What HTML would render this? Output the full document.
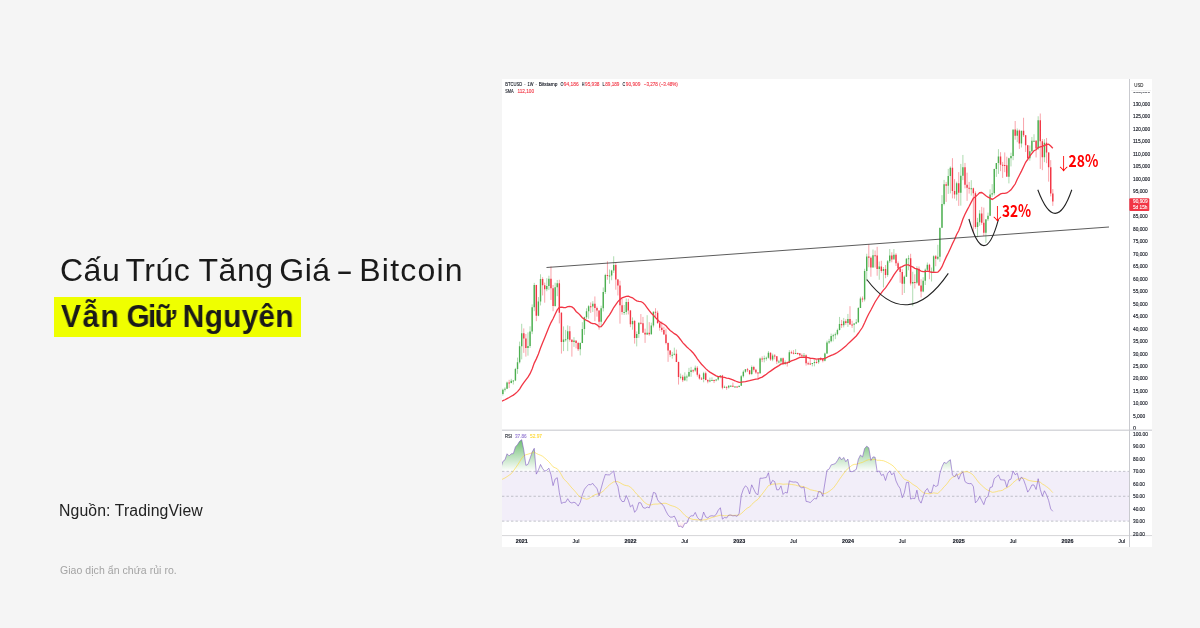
<!DOCTYPE html>
<html lang="vi"><head><meta charset="utf-8"><title>Cấu Trúc Tăng Giá - Bitcoin</title>
<style>
html,body{margin:0;padding:0}
.h1,.h2,.src,.disc{will-change:transform}
body{width:1200px;height:628px;background:#f5f5f5;position:relative;overflow:hidden;font-family:"Liberation Sans",sans-serif;color:#1c1c1c}
.h1{position:absolute;left:60px;top:251.8px;font-size:32px;line-height:36px;letter-spacing:0.5px;word-spacing:-3.6px;white-space:nowrap;color:#1a1a1a}
.dash{display:inline-block;transform:scaleX(1.6);transform-origin:0 0;margin-right:6px}
.hl{position:absolute;left:54px;top:297px;width:247px;height:40px;background:#efff00}
.h2{position:absolute;left:61px;top:297.9px;font-size:31.8px;line-height:36px;font-weight:bold;transform:scaleX(.94);transform-origin:0 0;white-space:nowrap;color:#1a1a1a}
.src{position:absolute;left:59.4px;top:501.4px;font-size:15.8px;line-height:20px;letter-spacing:0.1px;color:#222;white-space:nowrap}
.disc{position:absolute;left:60.3px;top:562.9px;font-size:10.5px;line-height:14px;letter-spacing:0.05px;color:#a3a3a3;white-space:nowrap}
.chart{position:absolute;left:502px;top:79px;display:block;will-change:transform}
</style></head><body>
<div class="h1">Cấu Trúc <span style="margin-left:2.5px">Tăng</span> Giá <span class="dash">-</span> <span style="letter-spacing:1.2px">Bitcoin</span></div>
<div class="hl"></div>
<div class="h2"><span style="letter-spacing:1.5px">Vẫn</span> <span style="letter-spacing:-1.9px;margin-left:-2px">Giữ</span> <span style="letter-spacing:0.3px">Nguyên</span></div>
<div class="src">Nguồn: TradingView</div>
<div class="disc">Giao dịch ẩn chứa rủi ro.</div>
<svg class="chart" width="650" height="468" viewBox="502 79 650 468">
<defs>
<clipPath id="c0"><rect x="1130" y="79" width="22" height="350.6"/></clipPath>
<clipPath id="cm"><rect x="502" y="79" width="627.5" height="351"/></clipPath>
<clipPath id="cr"><rect x="502" y="431" width="627.5" height="104"/></clipPath>
<clipPath id="cos"><rect x="502" y="521.15" width="627.5" height="13.85"/></clipPath>
<linearGradient id="gos" x1="0" y1="521.15" x2="0" y2="558.5" gradientUnits="userSpaceOnUse"><stop offset="0" stop-color="#f23645" stop-opacity="0"/><stop offset="1" stop-color="#f23645" stop-opacity=".9"/></linearGradient>
<clipPath id="cob"><rect x="502" y="431" width="627.5" height="40.35"/></clipPath>
<linearGradient id="gob" x1="0" y1="434" x2="0" y2="471.35" gradientUnits="userSpaceOnUse"><stop offset="0" stop-color="#4caf50" stop-opacity=".95"/><stop offset="1" stop-color="#4caf50" stop-opacity="0"/></linearGradient>
</defs>
<rect x="502" y="79" width="650" height="468" fill="#fff"/>
<g clip-path="url(#cm)">
<path d="M500.79 393.31V396.18M502.88 388.64V395.55M504.97 387.32V391.56M507.06 381.58V389.06M511.25 378.83V383.32M513.34 380.08V384.57M515.43 367.85V381.08M517.52 357.61V373.84M519.61 341.64V363.48M521.7 323.79V359.36M527.97 332.4V355.62M530.06 326.29V347.88M532.16 304.45V334.15M534.25 282.86V311.19M538.43 297.09V316.18M540.52 274.25V305.45M546.79 278.24V291.22M548.88 275.74V289.97M555.16 282.73V306.7M557.25 279.99V296.21M563.52 326.41V351.12M565.61 329.91V341.64M567.7 325.42V351.12M573.98 337.15V346.88M580.25 342.39V355.37M582.34 322.17V343.14M584.43 316.68V334.9M586.52 308.32V319.18M588.61 305.2V318.8M592.79 301.2V311.94M601.16 305.7V326.41M603.25 287.48V311.44M605.34 273.75V293.97M609.52 269.5V283.73M611.61 269.75V280.24M613.7 256.28V273M624.16 304.95V314.93M626.25 298.46V314.68M632.52 317.43V329.66M636.71 331.41V346.38M638.8 322.42V337.9M647.16 315.18V334.9M651.34 322.67V334.65M653.43 311.44V327.41M672.25 351.87V358.61M674.34 347.63V355.37M680.62 373.59V379.33M684.8 372.34V381.08M686.89 374.59V381.33M688.98 367.85V376.58M691.07 366.85V376.83M695.25 365.6V371.84M703.62 371.84V382.32M709.89 377.58V382.32M711.98 377.33V380.58M716.16 379.33V381.33M718.25 376.08V380.58M720.35 375.09V378.33M724.53 385.57V388.06M728.71 385.07V388.56M730.8 385.07V386.82M734.98 386.07V387.57M739.16 385.82V387.32M741.26 375.09V385.82M743.35 370.34V377.58M745.44 369.1V372.84M751.71 365.48V375.09M760.07 357.61V373.84M764.26 355.62V362.36M766.35 356.62V360.61M768.44 351.12V358.61M772.62 353.62V361.23M778.89 359.86V363.35M780.98 357.61V363.85M785.17 360.36V365.1M789.35 350.13V362.86M795.62 349.13V353.62M803.99 353V356.86M812.35 363.1V366.35M814.44 359.86V366.35M818.62 358.61V363.85M824.9 352.62V361.36M826.99 340.64V353.87M829.08 338.89V343.89M831.17 333.65V342.39M833.26 333.78V341.39M835.35 332.53V339.14M837.44 328.66V335.4M839.53 316.93V330.41M843.71 317.93V327.41M847.9 313.93V326.91M854.17 323.17V332.4M856.26 319.05V324.17M858.35 307.19V322.92M860.44 296.71V307.94M864.62 268.76V301.45M866.72 253.78V281.24M872.99 249.54V267.51M879.26 261.52V279.74M883.44 267.01V287.48M887.62 260.02V276.74M889.72 249.04V263.02M893.9 249.04V257.77M904.35 275.5V292.97M906.44 258.02V276.74M908.54 255.28V270.25M912.72 271.75V306.2M916.9 266.26V284.23M923.17 277.24V292.22M925.26 268.51V284.98M927.35 262.52V272M931.54 267.51V281.49M933.63 255.28V272.75M937.81 244.79V260.02M939.9 228.07V261.77M941.99 195.12V228.07M944.08 179.9V205.36M948.26 168.92V193.88M950.36 166.42V193.38M956.63 181.65V200.62M960.81 163.92V205.61M962.9 154.94V180.15M971.27 180.15V195.62M977.54 217.84V237.31M979.63 210.1V225.82M985.9 219.83V242.8M987.99 212.6V221.08M990.08 189.38V216.09M992.18 184.14V196.87M994.27 168.67V195.37M996.36 164.42V176.9M998.45 149.2V173.91M1008.9 157.68V183.39M1010.99 152.69V166.42M1013.09 130.23V160.18M1017.27 128.48V142.21M1021.45 130.73V147.45M1029.81 145.45V160.68M1031.9 136.97V152.44M1034 134.22V141.96M1038.18 116.25V149.95M1044.45 139.21V162.18" stroke="#4caf50" stroke-opacity=".45" stroke-width="1" fill="none"/>
<path d="M509.15 379.83V388.06M523.79 328.41V352.87M525.88 334.03V356.62M536.34 284.73V321.17M542.61 277.24V295.46M544.7 282.61V302.7M550.97 266.51V299.96M553.07 284.98V311.19M559.34 279.74V323.42M561.43 312.19V353.62M569.79 326.16V341.64M571.88 339.27V356.62M576.07 340.89V348.38M578.16 341.89V351M590.7 302.45V312.94M594.88 296.46V321.17M596.98 306.57V316.68M599.07 310.44V329.66M607.43 261.27V279.74M615.8 263.02V289.72M617.89 278.99V295.46M619.98 280.74V323.67M622.07 298.96V314.68M628.34 298.71V314.43M630.43 309.94V327.16M634.61 319.92V343.64M640.89 314.06V324.42M642.98 316.93V330.16M645.07 328.66V342.89M649.25 322.17V335.65M655.52 308.19V318.18M657.62 310.69V323.42M659.71 322.67V330.66M661.8 321.42V332.15M663.89 326.66V334.65M665.98 328.66V344.38M668.07 342.39V361.86M670.16 350.13V357.11M676.43 349.63V362.11M678.53 361.61V384.57M682.71 374.84V382.07M693.16 369.34V372.59M697.34 366.1V376.58M699.44 373.59V379.58M701.53 377.08V379.83M705.71 371.59V380.33M707.8 379.33V383.32M714.07 379.58V383.07M722.44 374.84V389.31M726.62 386.57V389.81M732.89 382.57V387.07M737.07 386.32V387.57M747.53 367.97V372.09M749.62 370.09V375.09M753.8 365.85V371.59M755.89 368.85V373.84M757.98 372.09V379.58M762.17 356.37V362.11M770.53 352.37V360.86M774.71 354.12V359.36M776.8 356.12V364.1M783.08 357.49V365.1M787.26 361.61V366.6M791.44 350.62V353.87M793.53 350.13V354.37M797.71 352.62V354.87M799.8 353.5V356.37M801.89 353.62V357.11M806.08 354.37V365.6M808.17 361.61V365.1M810.26 358.24V365.1M816.53 359.86V363.6M820.71 357.11V360.61M822.8 358.61V362.36M841.62 319.92V327.91M845.81 319.18V324.92M849.99 306.2V324.92M852.08 320.67V327.91M862.53 296.46V302.2M868.81 244.3V267.26M870.9 256.53V276.74M875.08 250.54V267.51M877.17 246.79V275.74M881.35 260.77V272.75M885.53 265.01V278.24M891.81 252.28V262.27M895.99 253.28V266.01M898.08 261.52V270.25M900.17 268.51V282.73M902.26 269.26V294.96M910.63 253.78V285.48M914.81 274.25V288.47M918.99 266.51V285.73M921.08 279.24V297.46M929.45 263.76V279.24M935.72 255.03V266.26M946.17 181.9V201.86M952.45 158.18V198.37M954.54 179.15V198.62M958.72 172.16V205.86M964.99 162.93V188.38M967.08 172.66V200.86M969.17 181.9V193.63M973.36 187.64V233.31M975.45 191.38V228.82M981.72 206.86V224.83M983.81 207.6V236.06M1000.54 152.19V171.16M1002.63 161.93V177.9M1004.72 152.44V172.16M1006.81 156.69V173.16M1015.18 120.99V139.71M1019.36 129.48V148.95M1023.54 117.75V136.97M1025.63 134.97V151.94M1027.72 144.95V160.68M1036.09 140.21V157.43M1040.27 113.5V168.92M1042.36 138.96V170.16M1046.54 137.97V163.18M1048.63 152.19V181.65M1050.72 160.18V196.37M1052.81 189.04V205.88" stroke="#f23645" stroke-opacity=".45" stroke-width="1" fill="none"/>
<path d="M500.09 394.08h1.4V395.98h-1.4zM502.18 389.86h1.4V394.08h-1.4zM504.27 388.64h1.4V389.86h-1.4zM506.36 382.57h1.4V388.64h-1.4zM510.55 380.63h1.4V383.07h-1.4zM512.64 380.45h1.4V381.45h-1.4zM514.73 368.97h1.4V380.45h-1.4zM516.82 362.36h1.4V368.97h-1.4zM518.91 346.13h1.4V362.36h-1.4zM521 333.15h1.4V346.13h-1.4zM527.27 345.88h1.4V347.88h-1.4zM529.36 331.53h1.4V345.88h-1.4zM531.46 307.19h1.4V331.53h-1.4zM533.55 284.98h1.4V307.19h-1.4zM537.73 301.45h1.4V315.68h-1.4zM539.82 278.99h1.4V301.45h-1.4zM546.09 285.98h1.4V289.22h-1.4zM548.18 278.74h1.4V285.98h-1.4zM554.46 287.23h1.4V306.07h-1.4zM556.55 283.23h1.4V287.23h-1.4zM562.82 339.52h1.4V341.89h-1.4zM564.91 339.14h1.4V340.14h-1.4zM567 331.16h1.4V339.14h-1.4zM573.27 340.39h1.4V342.01h-1.4zM579.55 342.89h1.4V349.13h-1.4zM581.64 328.91h1.4V342.89h-1.4zM583.73 317.18h1.4V328.91h-1.4zM585.82 311.19h1.4V317.18h-1.4zM587.91 306.32h1.4V311.19h-1.4zM592.09 303.82h1.4V306.57h-1.4zM600.46 308.19h1.4V321.67h-1.4zM602.55 291.97h1.4V308.19h-1.4zM604.64 275h1.4V291.97h-1.4zM608.82 275.5h1.4V276.5h-1.4zM610.91 270.5h1.4V275.5h-1.4zM613 265.01h1.4V270.5h-1.4zM623.46 311.94h1.4V312.94h-1.4zM625.55 301.95h1.4V311.94h-1.4zM631.82 320.92h1.4V324.17h-1.4zM636 333.9h1.4V337.9h-1.4zM638.1 322.67h1.4V333.9h-1.4zM646.46 332.65h1.4V334.4h-1.4zM650.64 325.42h1.4V334.15h-1.4zM652.73 311.69h1.4V325.42h-1.4zM671.55 354.87h1.4V355.87h-1.4zM673.64 353.87h1.4V354.87h-1.4zM679.92 376.83h1.4V377.83h-1.4zM684.1 376.58h1.4V380.33h-1.4zM686.19 376.58h1.4V377.58h-1.4zM688.28 372.09h1.4V376.58h-1.4zM690.37 370.34h1.4V372.09h-1.4zM694.55 367.85h1.4V370.59h-1.4zM702.92 373.34h1.4V379.08h-1.4zM709.19 380.33h1.4V381.58h-1.4zM711.28 380.08h1.4V381.08h-1.4zM715.46 379.58h1.4V380.58h-1.4zM717.55 377.08h1.4V379.58h-1.4zM719.64 375.58h1.4V377.08h-1.4zM723.83 386.82h1.4V387.82h-1.4zM728.01 385.82h1.4V387.44h-1.4zM730.1 385.82h1.4V386.82h-1.4zM734.28 386.47h1.4V387.47h-1.4zM738.46 385.82h1.4V387.07h-1.4zM740.56 376.33h1.4V385.82h-1.4zM742.65 371.84h1.4V376.33h-1.4zM744.74 369.34h1.4V371.84h-1.4zM751.01 367.1h1.4V374.09h-1.4zM759.37 358.61h1.4V373.34h-1.4zM763.56 358.24h1.4V359.24h-1.4zM765.65 357.86h1.4V358.86h-1.4zM767.74 352.87h1.4V357.86h-1.4zM771.92 355.62h1.4V359.61h-1.4zM778.19 361.48h1.4V362.48h-1.4zM780.28 358.36h1.4V361.48h-1.4zM784.47 362.36h1.4V363.98h-1.4zM788.65 352.37h1.4V362.86h-1.4zM794.92 353h1.4V354h-1.4zM803.29 355.37h1.4V356.37h-1.4zM811.65 363.1h1.4V364.1h-1.4zM813.74 362.11h1.4V363.11h-1.4zM817.92 358.74h1.4V362.36h-1.4zM824.2 353.62h1.4V360.73h-1.4zM826.29 342.39h1.4V353.62h-1.4zM828.38 341.14h1.4V342.39h-1.4zM830.47 335.9h1.4V341.14h-1.4zM832.56 335.15h1.4V336.15h-1.4zM834.65 334.15h1.4V335.15h-1.4zM836.74 329.91h1.4V334.15h-1.4zM838.83 323.92h1.4V329.91h-1.4zM843.01 321.17h1.4V325.17h-1.4zM847.2 318.93h1.4V322.92h-1.4zM853.47 323.42h1.4V324.67h-1.4zM855.56 322.17h1.4V323.42h-1.4zM857.65 307.94h1.4V322.17h-1.4zM859.74 298.46h1.4V307.94h-1.4zM863.92 271h1.4V299.46h-1.4zM866.02 256.53h1.4V271h-1.4zM872.29 255.28h1.4V267.51h-1.4zM878.56 266.51h1.4V269.01h-1.4zM882.74 269.01h1.4V271h-1.4zM886.92 261.27h1.4V275h-1.4zM889.02 255.53h1.4V261.27h-1.4zM893.2 254.78h1.4V259.52h-1.4zM903.65 276.74h1.4V283.73h-1.4zM905.74 258.77h1.4V276.74h-1.4zM907.84 258.27h1.4V259.27h-1.4zM912.02 281.98h1.4V283.48h-1.4zM916.2 268.76h1.4V282.73h-1.4zM922.47 280.74h1.4V291.47h-1.4zM924.56 269.75h1.4V280.74h-1.4zM926.65 264.76h1.4V269.75h-1.4zM930.84 271.5h1.4V272.5h-1.4zM932.93 256.28h1.4V271.5h-1.4zM937.11 256.78h1.4V258.77h-1.4zM939.2 227.82h1.4V256.78h-1.4zM941.29 204.11h1.4V227.82h-1.4zM943.38 184.14h1.4V204.11h-1.4zM947.56 175.9h1.4V185.64h-1.4zM949.65 167.67h1.4V175.9h-1.4zM955.93 183.14h1.4V194.62h-1.4zM960.11 175.66h1.4V192.63h-1.4zM962.2 167.17h1.4V175.66h-1.4zM970.57 188.14h1.4V189.14h-1.4zM976.84 222.33h1.4V227.07h-1.4zM978.93 213.59h1.4V222.33h-1.4zM985.2 219.34h1.4V232.81h-1.4zM987.29 215.84h1.4V219.34h-1.4zM989.38 194.38h1.4V215.84h-1.4zM991.48 193.13h1.4V194.38h-1.4zM993.57 168.92h1.4V193.13h-1.4zM995.66 162.93h1.4V168.92h-1.4zM997.75 156.44h1.4V162.93h-1.4zM1008.2 158.18h1.4V176.65h-1.4zM1010.29 155.94h1.4V158.18h-1.4zM1012.38 129.48h1.4V155.94h-1.4zM1016.57 130.48h1.4V135.72h-1.4zM1020.75 130.73h1.4V143.46h-1.4zM1029.11 151.19h1.4V158.18h-1.4zM1031.2 140.71h1.4V151.19h-1.4zM1033.3 140.71h1.4V141.71h-1.4zM1037.48 120.24h1.4V148.45h-1.4zM1043.75 142.71h1.4V157.18h-1.4z" fill="#4caf50"/>
<path d="M508.45 382.57h1.4V383.57h-1.4zM523.09 333.15h1.4V338.52h-1.4zM525.18 338.52h1.4V347.88h-1.4zM535.64 284.98h1.4V315.68h-1.4zM541.91 278.99h1.4V285.23h-1.4zM544 285.23h1.4V289.22h-1.4zM550.27 278.74h1.4V288.22h-1.4zM552.37 288.22h1.4V306.07h-1.4zM558.64 283.23h1.4V312.69h-1.4zM560.73 312.69h1.4V341.89h-1.4zM569.09 331.16h1.4V339.64h-1.4zM571.18 339.64h1.4V342.01h-1.4zM575.37 340.39h1.4V343.01h-1.4zM577.46 343.01h1.4V349.13h-1.4zM590 306.32h1.4V307.32h-1.4zM594.18 303.82h1.4V307.94h-1.4zM596.28 307.94h1.4V310.56h-1.4zM598.37 310.56h1.4V321.67h-1.4zM606.73 275h1.4V276h-1.4zM615.1 265.01h1.4V279.49h-1.4zM617.19 279.49h1.4V285.48h-1.4zM619.28 285.48h1.4V305.2h-1.4zM621.37 305.2h1.4V311.94h-1.4zM627.64 301.95h1.4V310.44h-1.4zM629.73 310.44h1.4V324.17h-1.4zM633.91 320.92h1.4V337.9h-1.4zM640.19 322.67h1.4V323.67h-1.4zM642.28 323.17h1.4V332.65h-1.4zM644.37 332.65h1.4V334.4h-1.4zM648.55 332.65h1.4V334.15h-1.4zM654.82 311.69h1.4V312.69h-1.4zM656.91 312.69h1.4V323.17h-1.4zM659.01 323.17h1.4V327.66h-1.4zM661.1 327.66h1.4V329.91h-1.4zM663.19 329.91h1.4V334.4h-1.4zM665.28 334.4h1.4V342.89h-1.4zM667.37 342.89h1.4V350.38h-1.4zM669.46 350.38h1.4V354.87h-1.4zM675.73 353.87h1.4V362.11h-1.4zM677.83 362.11h1.4V377.08h-1.4zM682.01 376.83h1.4V380.33h-1.4zM692.46 370.34h1.4V371.34h-1.4zM696.64 367.85h1.4V374.84h-1.4zM698.74 374.84h1.4V378.58h-1.4zM700.83 378.58h1.4V379.58h-1.4zM705.01 373.34h1.4V380.08h-1.4zM707.1 380.08h1.4V381.58h-1.4zM713.37 380.08h1.4V381.08h-1.4zM721.74 375.58h1.4V387.82h-1.4zM725.92 386.82h1.4V387.82h-1.4zM732.19 385.82h1.4V386.82h-1.4zM736.37 386.47h1.4V387.47h-1.4zM746.83 369.34h1.4V370.34h-1.4zM748.92 370.34h1.4V374.09h-1.4zM753.1 367.1h1.4V369.84h-1.4zM755.19 369.84h1.4V372.59h-1.4zM757.28 372.59h1.4V373.59h-1.4zM761.47 358.61h1.4V359.61h-1.4zM769.83 352.87h1.4V359.61h-1.4zM774.01 355.62h1.4V356.62h-1.4zM776.1 356.37h1.4V361.61h-1.4zM782.38 358.36h1.4V363.98h-1.4zM786.56 362.36h1.4V363.36h-1.4zM790.74 352.37h1.4V353.37h-1.4zM792.83 352.87h1.4V353.87h-1.4zM797.01 353h1.4V354h-1.4zM799.1 353.37h1.4V355.37h-1.4zM801.19 355.37h1.4V356.37h-1.4zM805.38 355.37h1.4V363.35h-1.4zM807.47 363.35h1.4V364.35h-1.4zM809.56 363.6h1.4V364.6h-1.4zM815.83 362.11h1.4V363.11h-1.4zM820.01 358.74h1.4V359.74h-1.4zM822.1 358.86h1.4V360.73h-1.4zM840.92 323.92h1.4V325.17h-1.4zM845.11 321.17h1.4V322.92h-1.4zM849.29 318.93h1.4V324.42h-1.4zM851.38 324.42h1.4V325.42h-1.4zM861.83 298.46h1.4V299.46h-1.4zM868.11 256.53h1.4V257.77h-1.4zM870.2 257.77h1.4V267.51h-1.4zM874.38 255.28h1.4V256.28h-1.4zM876.47 255.53h1.4V269.01h-1.4zM880.65 266.51h1.4V271h-1.4zM884.83 269.01h1.4V275h-1.4zM891.11 255.53h1.4V259.52h-1.4zM895.29 254.78h1.4V263.26h-1.4zM897.38 263.26h1.4V268.26h-1.4zM899.47 268.26h1.4V272h-1.4zM901.56 272h1.4V283.73h-1.4zM909.93 258.27h1.4V283.48h-1.4zM914.11 281.98h1.4V282.98h-1.4zM918.29 268.76h1.4V285.48h-1.4zM920.38 285.48h1.4V291.47h-1.4zM928.75 264.76h1.4V271.75h-1.4zM935.02 256.28h1.4V258.77h-1.4zM945.47 184.14h1.4V185.64h-1.4zM951.75 167.67h1.4V190.88h-1.4zM953.84 190.88h1.4V194.62h-1.4zM958.02 183.14h1.4V192.63h-1.4zM964.29 167.17h1.4V184.64h-1.4zM966.38 184.64h1.4V187.64h-1.4zM968.47 187.64h1.4V188.64h-1.4zM972.66 188.14h1.4V193.13h-1.4zM974.75 193.13h1.4V227.07h-1.4zM981.02 213.59h1.4V222.83h-1.4zM983.11 222.83h1.4V232.81h-1.4zM999.84 156.44h1.4V164.67h-1.4zM1001.93 164.67h1.4V165.67h-1.4zM1004.02 164.92h1.4V165.92h-1.4zM1006.11 165.17h1.4V176.65h-1.4zM1014.48 129.48h1.4V135.72h-1.4zM1018.66 130.48h1.4V143.46h-1.4zM1022.84 130.73h1.4V135.22h-1.4zM1024.93 135.22h1.4V145.2h-1.4zM1027.02 145.2h1.4V158.18h-1.4zM1035.39 140.71h1.4V148.45h-1.4zM1039.57 120.24h1.4V141.21h-1.4zM1041.66 141.21h1.4V157.18h-1.4zM1045.84 142.71h1.4V152.44h-1.4zM1047.93 152.44h1.4V167.17h-1.4zM1050.02 167.17h1.4V193.38h-1.4zM1052.11 193.41h1.4V201.59h-1.4z" fill="#f23645"/>
</g>
<path d="M498.7 401.98 L500.79 401.42 L502.88 400.65 L504.97 399.78 L507.06 398.64 L509.15 397.53 L511.25 396.28 L513.34 395.12 L515.43 393.54 L517.52 391.67 L519.61 389.04 L521.7 385.72 L523.79 382.69 L525.88 379.94 L527.97 377.14 L530.06 373.65 L532.16 368.93 L534.25 363.09 L536.34 358.87 L538.43 353.95 L540.52 348.1 L542.61 342.66 L544.7 337.63 L546.79 332.49 L548.88 327.3 L550.97 322.56 L553.07 318.83 L555.16 314.17 L557.25 309.88 L559.34 307.4 L561.43 307.19 L563.52 307.51 L565.61 307.54 L567.7 306.7 L569.79 306.39 L571.88 306.91 L573.98 308.57 L576.07 311.48 L578.16 313.15 L580.25 315.22 L582.34 317.72 L584.43 319.31 L586.52 320.41 L588.61 321.43 L590.7 322.82 L592.79 323.6 L594.88 323.69 L596.98 324.86 L599.07 326.78 L601.16 326.56 L603.25 324.06 L605.34 320.84 L607.43 317.65 L609.52 314.87 L611.61 311.41 L613.7 307.56 L615.8 304.52 L617.89 301.64 L619.98 299.44 L622.07 297.9 L624.16 297.05 L626.25 296.29 L628.34 296.25 L630.43 297.14 L632.52 297.86 L634.61 299.56 L636.71 300.86 L638.8 301.47 L640.89 301.54 L642.98 302.76 L645.07 304.89 L647.16 307.77 L649.25 310.7 L651.34 313.2 L653.43 315.26 L655.52 317.64 L657.62 319.82 L659.71 321.93 L661.8 323.17 L663.89 324.29 L665.98 325.84 L668.07 328.26 L670.16 330.48 L672.25 332.02 L674.34 333.66 L676.43 334.88 L678.53 337.03 L680.62 339.74 L682.71 342.6 L684.8 344.8 L686.89 346.91 L688.98 348.88 L691.07 350.69 L693.16 352.95 L695.25 355.75 L697.34 358.86 L699.44 361.63 L701.53 364.2 L703.62 366.37 L705.71 368.66 L707.8 370.59 L709.89 372.09 L711.98 373.35 L714.07 374.64 L716.16 375.92 L718.25 376.67 L720.35 376.6 L722.44 377.14 L724.53 377.47 L726.62 378.01 L728.71 378.47 L730.8 379.16 L732.89 379.97 L734.98 380.77 L737.07 381.73 L739.16 382.28 L741.26 382.17 L743.35 381.8 L745.44 381.6 L747.53 381.12 L749.62 380.74 L751.71 380.08 L753.8 379.57 L755.89 379.17 L757.98 378.86 L760.07 377.93 L762.17 377.09 L764.26 375.61 L766.35 374.17 L768.44 372.44 L770.53 371.13 L772.62 369.62 L774.71 368.1 L776.8 366.86 L778.89 365.58 L780.98 364.21 L783.08 363.59 L785.17 363.12 L787.26 362.79 L789.35 361.89 L791.44 360.83 L793.53 360.13 L795.62 359.29 L797.71 358.33 L799.8 357.43 L801.89 357.3 L803.99 357.13 L806.08 357.39 L808.17 357.68 L810.26 358.24 L812.35 358.41 L814.44 358.74 L816.53 359.04 L818.62 358.89 L820.71 358.76 L822.8 358.88 L824.9 358.36 L826.99 357.36 L829.08 356.28 L831.17 355.45 L833.26 354.57 L835.35 353.62 L837.44 352.47 L839.53 350.99 L841.62 349.48 L843.71 347.74 L845.81 346.12 L847.9 343.9 L849.99 341.94 L852.08 339.97 L854.17 337.98 L856.26 335.99 L858.35 333.27 L860.44 330.25 L862.53 327.28 L864.62 322.79 L866.72 317.94 L868.81 313.71 L870.9 310.03 L872.99 306 L875.08 302.02 L877.17 298.76 L879.26 295.59 L881.35 292.94 L883.44 290.13 L885.53 287.83 L887.62 284.74 L889.72 281.57 L891.81 278.33 L893.9 274.83 L895.99 271.83 L898.08 269.13 L900.17 267.33 L902.26 266.6 L904.35 265.46 L906.44 264.85 L908.54 264.94 L910.63 266.22 L912.72 266.95 L914.81 268.32 L916.9 268.98 L918.99 269.8 L921.08 271.05 L923.17 271.54 L925.26 271.58 L927.35 271.06 L929.45 271.59 L931.54 272.39 L933.63 272.23 L935.72 272.43 L937.81 272.1 L939.9 270.08 L941.99 266.68 L944.08 261.7 L946.17 257.15 L948.26 253.01 L950.36 248.48 L952.45 243.85 L954.54 239.48 L956.63 234.5 L958.72 230.69 L960.81 225.2 L962.9 218.99 L964.99 214.18 L967.08 210.08 L969.17 206.27 L971.27 202.09 L973.36 198.17 L975.45 196.71 L977.54 194.89 L979.63 192.73 L981.72 192.48 L983.81 193.91 L985.9 195.67 L987.99 197.18 L990.08 198.11 L992.18 199.38 L994.27 198.28 L996.36 196.7 L998.45 195.36 L1000.54 193.96 L1002.63 193.43 L1004.72 193.33 L1006.81 192.93 L1008.9 191.45 L1010.99 189.82 L1013.09 186.89 L1015.18 184.02 L1017.27 179.19 L1019.36 175.24 L1021.45 171.1 L1023.54 166.72 L1025.63 162.34 L1027.72 159.28 L1029.81 156.05 L1031.9 153.37 L1034 150.75 L1036.09 149.72 L1038.18 147.59 L1040.27 146.83 L1042.36 146.45 L1044.45 145.34 L1046.54 144.7 L1048.63 144.23 L1050.72 145.99 L1052.81 148.27" fill="none" stroke="#f23645" stroke-width="1.3" clip-path="url(#cm)"/>
<path d="M546.5 267.5L1109 227" stroke="#333" stroke-opacity=".8" stroke-width="1"/>
<path d="M866.8 279.5Q907.4 333 948.3 273.4" fill="none" stroke="#222" stroke-width="1.1"/>
<path d="M968.9 219Q984 272 998.4 219.6" fill="none" stroke="#222" stroke-width="1.1"/>
<path d="M1037.8 189.8Q1055.5 237 1071.8 189.8" fill="none" stroke="#222" stroke-width="1.1"/>
<g font-family="Liberation Sans, sans-serif" fill="#ff0000">
<text x="1055.3" y="169.5" font-size="16.8" font-weight="300" style="font-family:'Noto Sans CJK JP','Liberation Sans',sans-serif">↓</text>
<text x="1068.5" y="166.9" font-size="16.6" font-weight="bold" style="font-family:'Noto Sans CJK JP','Liberation Sans',sans-serif" textLength="29.8" lengthAdjust="spacingAndGlyphs">28%</text>
<text x="988.9" y="219.5" font-size="16.8" font-weight="300" style="font-family:'Noto Sans CJK JP','Liberation Sans',sans-serif">↓</text>
<text x="1001.9" y="217" font-size="16.6" font-weight="bold" style="font-family:'Noto Sans CJK JP','Liberation Sans',sans-serif" textLength="29.2" lengthAdjust="spacingAndGlyphs">32%</text>
</g>
<!-- rsi pane -->
<rect x="502" y="471.35" width="627.5" height="49.8" fill="#7e57c2" fill-opacity=".1"/>
<g stroke="#9598a1" stroke-width="1" stroke-dasharray="2.4 2.1" opacity=".55">
<path d="M502 471.35H1129M502 496.25H1129M502 521.15H1129"/>
</g>
<path d="M500.79 471.35 L500.79 468.07 L502.88 461.43 L504.97 459.85 L507.06 453.79 L509.15 455.92 L511.25 453.79 L513.34 453.65 L515.43 446.89 L517.52 444.62 L519.61 441.25 L521.7 439.69 L523.79 450.06 L525.88 465.33 L527.97 464.35 L530.06 458.42 L532.16 452 L534.25 448.31 L536.34 474.1 L538.43 469.9 L540.52 464.48 L542.61 468.55 L544.7 471.15 L546.79 470.23 L548.88 468.2 L550.97 474.81 L553.07 485.62 L555.16 479.01 L557.25 477.73 L559.34 492.6 L561.43 503.42 L563.52 502.44 L565.61 502.28 L567.7 498.71 L569.79 502.08 L571.88 503.02 L573.98 502.18 L576.07 503.35 L578.16 506.08 L580.25 502.36 L582.34 494.8 L584.43 489.27 L586.52 486.64 L588.61 484.54 L590.7 484.7 L592.79 483.41 L594.88 486.37 L596.98 488.27 L599.07 495.81 L601.16 488.21 L603.25 480.75 L605.34 474.48 L607.43 474.84 L609.52 474.84 L611.61 472.93 L613.7 470.88 L615.8 482.25 L617.89 486.42 L619.98 498.11 L622.07 501.52 L624.16 501.52 L626.25 495.56 L628.34 500.26 L630.43 506.98 L632.52 504.9 L634.61 512.31 L636.71 509.66 L638.8 502.62 L640.89 502.87 L642.98 507.49 L645.07 508.32 L647.16 507.05 L649.25 507.85 L651.34 501.25 L653.43 492.42 L655.52 493.1 L657.62 499.85 L659.71 502.51 L661.8 503.85 L663.89 506.53 L665.98 511.23 L668.07 514.98 L670.16 517.1 L672.25 517.1 L674.34 516.07 L676.43 520.28 L678.53 526.5 L680.62 526.23 L682.71 527.58 L684.8 523.25 L686.89 523.25 L688.98 517.85 L691.07 515.78 L693.16 515.94 L695.25 512.43 L697.34 517.28 L699.44 519.64 L701.53 519.96 L703.62 512.07 L705.71 516.89 L707.8 517.9 L709.89 516.12 L711.98 515.74 L714.07 516.16 L716.16 514.47 L718.25 510.25 L720.35 507.75 L722.44 519.11 L724.53 517.46 L726.62 517.99 L728.71 515.08 L730.8 515.08 L732.89 515.92 L734.98 515.6 L737.07 516.31 L739.16 513.37 L741.26 495.39 L743.35 489.04 L745.44 485.83 L747.53 487.61 L749.62 493.99 L751.71 484.8 L753.8 489.29 L755.89 493.55 L757.98 494.7 L760.07 478.11 L762.17 478.31 L764.26 477.84 L766.35 477.47 L768.44 472.74 L770.53 484.44 L772.62 480.4 L774.71 481.65 L776.8 489.88 L778.89 489.73 L780.98 485.9 L783.08 494.43 L785.17 492.3 L787.26 493.06 L789.35 480.83 L791.44 481.65 L793.53 482.08 L795.62 481.93 L797.71 482.67 L799.8 486.66 L801.89 487.91 L803.99 486.92 L806.08 501.4 L808.17 501.78 L810.26 502.59 L812.35 500.54 L814.44 498.46 L816.53 498.96 L818.62 491.47 L820.71 491.75 L822.8 496.05 L824.9 483.1 L826.99 470.24 L829.08 469.14 L831.17 464.89 L833.26 464.33 L835.35 463.55 L837.44 460.46 L839.53 456.83 L841.62 459.87 L843.71 457.45 L845.81 461.71 L847.9 459.1 L849.99 471.25 L852.08 471.76 L854.17 470.59 L856.26 469.41 L858.35 459.35 L860.44 455.06 L862.53 457.01 L864.62 448.58 L866.72 446.14 L868.81 447.86 L870.9 460.45 L872.99 456.92 L875.08 457.21 L877.17 471.93 L879.26 470.86 L881.35 475.4 L883.44 474.4 L885.53 480.49 L887.62 473.44 L889.72 470.92 L891.81 474.92 L893.9 472.66 L895.99 480.92 L898.08 485.38 L900.17 488.62 L902.26 497.71 L904.35 492.8 L906.44 482.46 L908.54 482.21 L910.63 499.11 L912.72 498.2 L914.81 498.65 L916.9 490.21 L918.99 500.04 L921.08 503.12 L923.17 496.75 L925.26 490.96 L927.35 488.5 L929.45 492.78 L931.54 492.64 L933.63 484.81 L935.72 486.51 L937.81 485.49 L939.9 473.49 L941.99 466.76 L944.08 462.37 L946.17 463.4 L948.26 461.35 L950.36 459.72 L952.45 474.87 L954.54 477.04 L956.63 473.64 L958.72 479.21 L960.81 474.14 L962.9 471.85 L964.99 481.57 L967.08 483.13 L969.17 483.68 L971.27 483.49 L973.36 486.49 L975.45 502.84 L977.54 500.57 L979.63 496.47 L981.72 500.53 L983.81 504.63 L985.9 498.04 L987.99 496.42 L990.08 487.44 L992.18 486.97 L994.27 478.64 L996.36 476.85 L998.45 474.93 L1000.54 479.75 L1002.63 479.9 L1004.72 480.06 L1006.81 487.19 L1008.9 479.95 L1010.99 479.15 L1013.09 470.94 L1015.18 474.8 L1017.27 473.24 L1019.36 481.16 L1021.45 476.94 L1023.54 479.62 L1025.63 485.37 L1027.72 492.14 L1029.81 489.18 L1031.9 484.98 L1034 484.98 L1036.09 489.47 L1038.18 478.74 L1040.27 489.44 L1042.36 496.28 L1044.45 490.79 L1046.54 494.85 L1048.63 500.53 L1050.72 508.98 L1052.81 511.31 L1052.81 471.35Z" fill="url(#gob)" clip-path="url(#cob)"/>
<path d="M500.79 521.15 L500.79 468.07 L502.88 461.43 L504.97 459.85 L507.06 453.79 L509.15 455.92 L511.25 453.79 L513.34 453.65 L515.43 446.89 L517.52 444.62 L519.61 441.25 L521.7 439.69 L523.79 450.06 L525.88 465.33 L527.97 464.35 L530.06 458.42 L532.16 452 L534.25 448.31 L536.34 474.1 L538.43 469.9 L540.52 464.48 L542.61 468.55 L544.7 471.15 L546.79 470.23 L548.88 468.2 L550.97 474.81 L553.07 485.62 L555.16 479.01 L557.25 477.73 L559.34 492.6 L561.43 503.42 L563.52 502.44 L565.61 502.28 L567.7 498.71 L569.79 502.08 L571.88 503.02 L573.98 502.18 L576.07 503.35 L578.16 506.08 L580.25 502.36 L582.34 494.8 L584.43 489.27 L586.52 486.64 L588.61 484.54 L590.7 484.7 L592.79 483.41 L594.88 486.37 L596.98 488.27 L599.07 495.81 L601.16 488.21 L603.25 480.75 L605.34 474.48 L607.43 474.84 L609.52 474.84 L611.61 472.93 L613.7 470.88 L615.8 482.25 L617.89 486.42 L619.98 498.11 L622.07 501.52 L624.16 501.52 L626.25 495.56 L628.34 500.26 L630.43 506.98 L632.52 504.9 L634.61 512.31 L636.71 509.66 L638.8 502.62 L640.89 502.87 L642.98 507.49 L645.07 508.32 L647.16 507.05 L649.25 507.85 L651.34 501.25 L653.43 492.42 L655.52 493.1 L657.62 499.85 L659.71 502.51 L661.8 503.85 L663.89 506.53 L665.98 511.23 L668.07 514.98 L670.16 517.1 L672.25 517.1 L674.34 516.07 L676.43 520.28 L678.53 526.5 L680.62 526.23 L682.71 527.58 L684.8 523.25 L686.89 523.25 L688.98 517.85 L691.07 515.78 L693.16 515.94 L695.25 512.43 L697.34 517.28 L699.44 519.64 L701.53 519.96 L703.62 512.07 L705.71 516.89 L707.8 517.9 L709.89 516.12 L711.98 515.74 L714.07 516.16 L716.16 514.47 L718.25 510.25 L720.35 507.75 L722.44 519.11 L724.53 517.46 L726.62 517.99 L728.71 515.08 L730.8 515.08 L732.89 515.92 L734.98 515.6 L737.07 516.31 L739.16 513.37 L741.26 495.39 L743.35 489.04 L745.44 485.83 L747.53 487.61 L749.62 493.99 L751.71 484.8 L753.8 489.29 L755.89 493.55 L757.98 494.7 L760.07 478.11 L762.17 478.31 L764.26 477.84 L766.35 477.47 L768.44 472.74 L770.53 484.44 L772.62 480.4 L774.71 481.65 L776.8 489.88 L778.89 489.73 L780.98 485.9 L783.08 494.43 L785.17 492.3 L787.26 493.06 L789.35 480.83 L791.44 481.65 L793.53 482.08 L795.62 481.93 L797.71 482.67 L799.8 486.66 L801.89 487.91 L803.99 486.92 L806.08 501.4 L808.17 501.78 L810.26 502.59 L812.35 500.54 L814.44 498.46 L816.53 498.96 L818.62 491.47 L820.71 491.75 L822.8 496.05 L824.9 483.1 L826.99 470.24 L829.08 469.14 L831.17 464.89 L833.26 464.33 L835.35 463.55 L837.44 460.46 L839.53 456.83 L841.62 459.87 L843.71 457.45 L845.81 461.71 L847.9 459.1 L849.99 471.25 L852.08 471.76 L854.17 470.59 L856.26 469.41 L858.35 459.35 L860.44 455.06 L862.53 457.01 L864.62 448.58 L866.72 446.14 L868.81 447.86 L870.9 460.45 L872.99 456.92 L875.08 457.21 L877.17 471.93 L879.26 470.86 L881.35 475.4 L883.44 474.4 L885.53 480.49 L887.62 473.44 L889.72 470.92 L891.81 474.92 L893.9 472.66 L895.99 480.92 L898.08 485.38 L900.17 488.62 L902.26 497.71 L904.35 492.8 L906.44 482.46 L908.54 482.21 L910.63 499.11 L912.72 498.2 L914.81 498.65 L916.9 490.21 L918.99 500.04 L921.08 503.12 L923.17 496.75 L925.26 490.96 L927.35 488.5 L929.45 492.78 L931.54 492.64 L933.63 484.81 L935.72 486.51 L937.81 485.49 L939.9 473.49 L941.99 466.76 L944.08 462.37 L946.17 463.4 L948.26 461.35 L950.36 459.72 L952.45 474.87 L954.54 477.04 L956.63 473.64 L958.72 479.21 L960.81 474.14 L962.9 471.85 L964.99 481.57 L967.08 483.13 L969.17 483.68 L971.27 483.49 L973.36 486.49 L975.45 502.84 L977.54 500.57 L979.63 496.47 L981.72 500.53 L983.81 504.63 L985.9 498.04 L987.99 496.42 L990.08 487.44 L992.18 486.97 L994.27 478.64 L996.36 476.85 L998.45 474.93 L1000.54 479.75 L1002.63 479.9 L1004.72 480.06 L1006.81 487.19 L1008.9 479.95 L1010.99 479.15 L1013.09 470.94 L1015.18 474.8 L1017.27 473.24 L1019.36 481.16 L1021.45 476.94 L1023.54 479.62 L1025.63 485.37 L1027.72 492.14 L1029.81 489.18 L1031.9 484.98 L1034 484.98 L1036.09 489.47 L1038.18 478.74 L1040.27 489.44 L1042.36 496.28 L1044.45 490.79 L1046.54 494.85 L1048.63 500.53 L1050.72 508.98 L1052.81 511.31 L1052.81 521.15Z" fill="url(#gos)" clip-path="url(#cos)"/>
<path d="M500.79 480.06 L502.88 478.99 L504.97 477.95 L507.06 476.63 L509.15 475.23 L511.25 473.7 L513.34 471.02 L515.43 468.08 L517.52 465.11 L519.61 461.79 L521.7 458.27 L523.79 455.92 L525.88 454.73 L527.97 454.19 L530.06 453.5 L532.16 452.83 L534.25 452 L536.34 453.45 L538.43 454.45 L540.52 455.22 L542.61 456.28 L544.7 458.01 L546.79 459.84 L548.88 461.77 L550.97 464.28 L553.07 466.82 L555.16 467.8 L557.25 468.75 L559.34 471.19 L561.43 474.87 L563.52 478.73 L565.61 480.75 L567.7 482.8 L569.79 485.49 L571.88 487.95 L573.98 490.17 L576.07 492.53 L578.16 495.24 L580.25 497.21 L582.34 497.86 L584.43 498.6 L586.52 499.23 L588.61 498.66 L590.7 497.32 L592.79 495.96 L594.88 494.82 L596.98 494.08 L599.07 493.63 L601.16 492.57 L603.25 491.04 L605.34 488.98 L607.43 486.75 L609.52 484.78 L611.61 483.22 L613.7 481.9 L615.8 481.59 L617.89 481.73 L619.98 482.68 L622.07 483.98 L624.16 485.06 L626.25 485.58 L628.34 485.9 L630.43 487.24 L632.52 488.96 L634.61 491.66 L636.71 494.15 L638.8 496.14 L640.89 498.27 L642.98 500.89 L645.07 502.75 L647.16 504.23 L649.25 504.92 L651.34 504.9 L653.43 504.25 L655.52 504.08 L657.62 504.05 L659.71 503.73 L661.8 503.65 L663.89 503.24 L665.98 503.35 L668.07 504.24 L670.16 505.25 L672.25 505.94 L674.34 506.49 L676.43 507.44 L678.53 508.77 L680.62 510.55 L682.71 513.06 L684.8 515.22 L686.89 516.89 L688.98 517.99 L691.07 518.84 L693.16 519.51 L695.25 519.6 L697.34 519.76 L699.44 519.94 L701.53 520.15 L703.62 519.86 L705.71 519.62 L707.8 519 L709.89 518.28 L711.98 517.44 L714.07 516.93 L716.16 516.3 L718.25 515.76 L720.35 515.18 L722.44 515.41 L724.53 515.77 L726.62 515.82 L728.71 515.5 L730.8 515.15 L732.89 515.42 L734.98 515.33 L737.07 515.22 L739.16 515.02 L741.26 513.57 L743.35 511.63 L745.44 509.58 L747.53 507.97 L749.62 506.98 L751.71 504.53 L753.8 502.52 L755.89 500.77 L757.98 499.32 L760.07 496.68 L762.17 493.99 L764.26 491.29 L766.35 488.52 L768.44 485.62 L770.53 484.84 L772.62 484.22 L774.71 483.92 L776.8 484.08 L778.89 483.78 L780.98 483.86 L783.08 484.22 L785.17 484.14 L787.26 484.02 L789.35 484.21 L791.44 484.45 L793.53 484.75 L795.62 485.07 L797.71 485.78 L799.8 485.94 L801.89 486.48 L803.99 486.85 L806.08 487.68 L808.17 488.54 L810.26 489.73 L812.35 490.17 L814.44 490.61 L816.53 491.03 L818.62 491.79 L820.71 492.51 L822.8 493.51 L824.9 493.59 L826.99 492.7 L829.08 491.45 L831.17 489.81 L833.26 488.19 L835.35 485.49 L837.44 482.54 L839.53 479.27 L841.62 476.36 L843.71 473.43 L845.81 470.77 L847.9 468.46 L849.99 467 L852.08 465.26 L854.17 464.37 L856.26 464.31 L858.35 463.61 L860.44 462.91 L862.53 462.39 L864.62 461.32 L866.72 460.29 L868.81 459.65 L870.9 459.69 L872.99 459.66 L875.08 459.33 L877.17 460.25 L879.26 460.22 L881.35 460.48 L883.44 460.76 L885.53 461.55 L887.62 462.55 L889.72 463.69 L891.81 464.97 L893.9 466.69 L895.99 469.17 L898.08 471.85 L900.17 473.86 L902.26 476.78 L904.35 479.32 L906.44 480.07 L908.54 480.88 L910.63 482.57 L912.72 484.28 L914.81 485.57 L916.9 486.77 L918.99 488.85 L921.08 490.86 L923.17 492.58 L925.26 493.3 L927.35 493.53 L929.45 493.82 L931.54 493.46 L933.63 492.89 L935.72 493.18 L937.81 493.41 L939.9 491.58 L941.99 489.34 L944.08 486.75 L946.17 484.83 L948.26 482.07 L950.36 478.97 L952.45 477.41 L954.54 476.41 L956.63 475.35 L958.72 474.38 L960.81 473.06 L962.9 472.13 L964.99 471.78 L967.08 471.61 L969.17 472.34 L971.27 473.53 L973.36 475.26 L975.45 478.07 L977.54 480.88 L979.63 483.5 L981.72 485.33 L983.81 487.3 L985.9 489.05 L987.99 490.28 L990.08 491.23 L992.18 492.31 L994.27 492.1 L996.36 491.65 L998.45 491.02 L1000.54 490.76 L1002.63 490.28 L1004.72 488.66 L1006.81 487.7 L1008.9 486.52 L1010.99 484.99 L1013.09 482.59 L1015.18 480.93 L1017.27 479.27 L1019.36 478.82 L1021.45 478.11 L1023.54 478.18 L1025.63 478.79 L1027.72 480.01 L1029.81 480.69 L1031.9 481.05 L1034 481.4 L1036.09 481.57 L1038.18 481.48 L1040.27 482.21 L1042.36 484.02 L1044.45 485.17 L1046.54 486.71 L1048.63 488.09 L1050.72 490.38 L1052.81 492.65" fill="none" stroke="#fdd835" stroke-opacity=".6" stroke-width="1" clip-path="url(#cr)"/>
<path d="M500.79 468.07 L502.88 461.43 L504.97 459.85 L507.06 453.79 L509.15 455.92 L511.25 453.79 L513.34 453.65 L515.43 446.89 L517.52 444.62 L519.61 441.25 L521.7 439.69 L523.79 450.06 L525.88 465.33 L527.97 464.35 L530.06 458.42 L532.16 452 L534.25 448.31 L536.34 474.1 L538.43 469.9 L540.52 464.48 L542.61 468.55 L544.7 471.15 L546.79 470.23 L548.88 468.2 L550.97 474.81 L553.07 485.62 L555.16 479.01 L557.25 477.73 L559.34 492.6 L561.43 503.42 L563.52 502.44 L565.61 502.28 L567.7 498.71 L569.79 502.08 L571.88 503.02 L573.98 502.18 L576.07 503.35 L578.16 506.08 L580.25 502.36 L582.34 494.8 L584.43 489.27 L586.52 486.64 L588.61 484.54 L590.7 484.7 L592.79 483.41 L594.88 486.37 L596.98 488.27 L599.07 495.81 L601.16 488.21 L603.25 480.75 L605.34 474.48 L607.43 474.84 L609.52 474.84 L611.61 472.93 L613.7 470.88 L615.8 482.25 L617.89 486.42 L619.98 498.11 L622.07 501.52 L624.16 501.52 L626.25 495.56 L628.34 500.26 L630.43 506.98 L632.52 504.9 L634.61 512.31 L636.71 509.66 L638.8 502.62 L640.89 502.87 L642.98 507.49 L645.07 508.32 L647.16 507.05 L649.25 507.85 L651.34 501.25 L653.43 492.42 L655.52 493.1 L657.62 499.85 L659.71 502.51 L661.8 503.85 L663.89 506.53 L665.98 511.23 L668.07 514.98 L670.16 517.1 L672.25 517.1 L674.34 516.07 L676.43 520.28 L678.53 526.5 L680.62 526.23 L682.71 527.58 L684.8 523.25 L686.89 523.25 L688.98 517.85 L691.07 515.78 L693.16 515.94 L695.25 512.43 L697.34 517.28 L699.44 519.64 L701.53 519.96 L703.62 512.07 L705.71 516.89 L707.8 517.9 L709.89 516.12 L711.98 515.74 L714.07 516.16 L716.16 514.47 L718.25 510.25 L720.35 507.75 L722.44 519.11 L724.53 517.46 L726.62 517.99 L728.71 515.08 L730.8 515.08 L732.89 515.92 L734.98 515.6 L737.07 516.31 L739.16 513.37 L741.26 495.39 L743.35 489.04 L745.44 485.83 L747.53 487.61 L749.62 493.99 L751.71 484.8 L753.8 489.29 L755.89 493.55 L757.98 494.7 L760.07 478.11 L762.17 478.31 L764.26 477.84 L766.35 477.47 L768.44 472.74 L770.53 484.44 L772.62 480.4 L774.71 481.65 L776.8 489.88 L778.89 489.73 L780.98 485.9 L783.08 494.43 L785.17 492.3 L787.26 493.06 L789.35 480.83 L791.44 481.65 L793.53 482.08 L795.62 481.93 L797.71 482.67 L799.8 486.66 L801.89 487.91 L803.99 486.92 L806.08 501.4 L808.17 501.78 L810.26 502.59 L812.35 500.54 L814.44 498.46 L816.53 498.96 L818.62 491.47 L820.71 491.75 L822.8 496.05 L824.9 483.1 L826.99 470.24 L829.08 469.14 L831.17 464.89 L833.26 464.33 L835.35 463.55 L837.44 460.46 L839.53 456.83 L841.62 459.87 L843.71 457.45 L845.81 461.71 L847.9 459.1 L849.99 471.25 L852.08 471.76 L854.17 470.59 L856.26 469.41 L858.35 459.35 L860.44 455.06 L862.53 457.01 L864.62 448.58 L866.72 446.14 L868.81 447.86 L870.9 460.45 L872.99 456.92 L875.08 457.21 L877.17 471.93 L879.26 470.86 L881.35 475.4 L883.44 474.4 L885.53 480.49 L887.62 473.44 L889.72 470.92 L891.81 474.92 L893.9 472.66 L895.99 480.92 L898.08 485.38 L900.17 488.62 L902.26 497.71 L904.35 492.8 L906.44 482.46 L908.54 482.21 L910.63 499.11 L912.72 498.2 L914.81 498.65 L916.9 490.21 L918.99 500.04 L921.08 503.12 L923.17 496.75 L925.26 490.96 L927.35 488.5 L929.45 492.78 L931.54 492.64 L933.63 484.81 L935.72 486.51 L937.81 485.49 L939.9 473.49 L941.99 466.76 L944.08 462.37 L946.17 463.4 L948.26 461.35 L950.36 459.72 L952.45 474.87 L954.54 477.04 L956.63 473.64 L958.72 479.21 L960.81 474.14 L962.9 471.85 L964.99 481.57 L967.08 483.13 L969.17 483.68 L971.27 483.49 L973.36 486.49 L975.45 502.84 L977.54 500.57 L979.63 496.47 L981.72 500.53 L983.81 504.63 L985.9 498.04 L987.99 496.42 L990.08 487.44 L992.18 486.97 L994.27 478.64 L996.36 476.85 L998.45 474.93 L1000.54 479.75 L1002.63 479.9 L1004.72 480.06 L1006.81 487.19 L1008.9 479.95 L1010.99 479.15 L1013.09 470.94 L1015.18 474.8 L1017.27 473.24 L1019.36 481.16 L1021.45 476.94 L1023.54 479.62 L1025.63 485.37 L1027.72 492.14 L1029.81 489.18 L1031.9 484.98 L1034 484.98 L1036.09 489.47 L1038.18 478.74 L1040.27 489.44 L1042.36 496.28 L1044.45 490.79 L1046.54 494.85 L1048.63 500.53 L1050.72 508.98 L1052.81 511.31" fill="none" stroke="#7e57c2" stroke-opacity=".7" stroke-width="0.85" clip-path="url(#cr)"/>
<!-- axes -->
<path d="M502 430.2H1152" stroke="#d7d8dc" stroke-width="1.6"/>
<path d="M502 535.6H1152" stroke="#d6d6d8" stroke-width="1"/>
<path d="M1129.5 79V547" stroke="#c9cacf" stroke-width="1"/>
<g font-family="Liberation Sans, sans-serif" font-size="5.4" fill="#131722" stroke="#131722" stroke-width=".14">
<text x="1133" y="417.92" textLength="12.2" lengthAdjust="spacingAndGlyphs">5,000</text><text x="1133" y="405.44" textLength="14.6" lengthAdjust="spacingAndGlyphs">10,000</text><text x="1133" y="392.96" textLength="14.6" lengthAdjust="spacingAndGlyphs">15,000</text><text x="1133" y="380.48" textLength="14.6" lengthAdjust="spacingAndGlyphs">20,000</text><text x="1133" y="368" textLength="14.6" lengthAdjust="spacingAndGlyphs">25,000</text><text x="1133" y="355.52" textLength="14.6" lengthAdjust="spacingAndGlyphs">30,000</text><text x="1133" y="343.04" textLength="14.6" lengthAdjust="spacingAndGlyphs">35,000</text><text x="1133" y="330.56" textLength="14.6" lengthAdjust="spacingAndGlyphs">40,000</text><text x="1133" y="318.08" textLength="14.6" lengthAdjust="spacingAndGlyphs">45,000</text><text x="1133" y="305.6" textLength="14.6" lengthAdjust="spacingAndGlyphs">50,000</text><text x="1133" y="293.12" textLength="14.6" lengthAdjust="spacingAndGlyphs">55,000</text><text x="1133" y="280.64" textLength="14.6" lengthAdjust="spacingAndGlyphs">60,000</text><text x="1133" y="268.16" textLength="14.6" lengthAdjust="spacingAndGlyphs">65,000</text><text x="1133" y="255.68" textLength="14.6" lengthAdjust="spacingAndGlyphs">70,000</text><text x="1133" y="243.2" textLength="14.6" lengthAdjust="spacingAndGlyphs">75,000</text><text x="1133" y="230.72" textLength="14.6" lengthAdjust="spacingAndGlyphs">80,000</text><text x="1133" y="218.24" textLength="14.6" lengthAdjust="spacingAndGlyphs">85,000</text><text x="1133" y="193.28" textLength="14.6" lengthAdjust="spacingAndGlyphs">95,000</text><text x="1133" y="180.8" textLength="17.1" lengthAdjust="spacingAndGlyphs">100,000</text><text x="1133" y="168.32" textLength="17.1" lengthAdjust="spacingAndGlyphs">105,000</text><text x="1133" y="155.84" textLength="17.1" lengthAdjust="spacingAndGlyphs">110,000</text><text x="1133" y="143.36" textLength="17.1" lengthAdjust="spacingAndGlyphs">115,000</text><text x="1133" y="130.88" textLength="17.1" lengthAdjust="spacingAndGlyphs">120,000</text><text x="1133" y="118.4" textLength="17.1" lengthAdjust="spacingAndGlyphs">125,000</text><text x="1133" y="105.92" textLength="17.1" lengthAdjust="spacingAndGlyphs">130,000</text><text x="1133" y="93.44" textLength="17.1" lengthAdjust="spacingAndGlyphs">135,000</text><text x="1133" y="430.4" clip-path="url(#c0)">0</text>
<text x="1133" y="535.5" textLength="11.9" lengthAdjust="spacingAndGlyphs">20.00</text><text x="1133" y="523.05" textLength="11.9" lengthAdjust="spacingAndGlyphs">30.00</text><text x="1133" y="510.6" textLength="11.9" lengthAdjust="spacingAndGlyphs">40.00</text><text x="1133" y="498.15" textLength="11.9" lengthAdjust="spacingAndGlyphs">50.00</text><text x="1133" y="485.7" textLength="11.9" lengthAdjust="spacingAndGlyphs">60.00</text><text x="1133" y="473.25" textLength="11.9" lengthAdjust="spacingAndGlyphs">70.00</text><text x="1133" y="460.8" textLength="11.9" lengthAdjust="spacingAndGlyphs">80.00</text><text x="1133" y="448.35" textLength="11.9" lengthAdjust="spacingAndGlyphs">90.00</text><text x="1133" y="435.9" textLength="14.9" lengthAdjust="spacingAndGlyphs">100.00</text>
<text x="521.7" y="542.8" text-anchor="middle" font-weight="bold">2021</text><text x="576.07" y="542.8" text-anchor="middle">Jul</text><text x="630.43" y="542.8" text-anchor="middle" font-weight="bold">2022</text><text x="684.8" y="542.8" text-anchor="middle">Jul</text><text x="739.16" y="542.8" text-anchor="middle" font-weight="bold">2023</text><text x="793.53" y="542.8" text-anchor="middle">Jul</text><text x="847.9" y="542.8" text-anchor="middle" font-weight="bold">2024</text><text x="902.26" y="542.8" text-anchor="middle">Jul</text><text x="958.72" y="542.8" text-anchor="middle" font-weight="bold">2025</text><text x="1013.09" y="542.8" text-anchor="middle">Jul</text><text x="1067.45" y="542.8" text-anchor="middle" font-weight="bold">2026</text><text x="1121.82" y="542.8" text-anchor="middle">Jul</text>
</g>
<rect x="1130" y="79" width="22" height="13.2" fill="#fff"/>
<path d="M1131 90.6H1151" stroke="#ececec" stroke-width=".8"/>
<text x="1134.3" y="87.3" font-family="Liberation Sans, sans-serif" font-size="5.4" fill="#333" stroke="#333" stroke-width=".12" textLength="9.2" lengthAdjust="spacingAndGlyphs">USD</text>
<rect x="1129.3" y="198.2" width="20" height="12.7" rx="1" fill="#f23645"/>
<g font-family="Liberation Sans, sans-serif" font-size="5.4" fill="#fff" stroke="#fff" stroke-width=".1">
<text x="1133" y="203.3" textLength="14.6" lengthAdjust="spacingAndGlyphs">90,909</text>
<text x="1133" y="209.4" textLength="14.4" lengthAdjust="spacingAndGlyphs">5d 15h</text>
</g>
<g font-family="Liberation Sans, sans-serif" font-size="5.4" fill="#131722" stroke="#131722" stroke-width=".12">
<text x="505.2" y="86" textLength="17" lengthAdjust="spacingAndGlyphs">BTCUSD</text><text x="524" y="86">·</text><text x="527.6" y="86" textLength="5.9" lengthAdjust="spacingAndGlyphs">1W</text><text x="535.3" y="86">·</text><text x="538.7" y="86" textLength="18.7" lengthAdjust="spacingAndGlyphs">Bitstamp</text>
<text x="560.6" y="86" textLength="3" lengthAdjust="spacingAndGlyphs">O</text><text x="563.8" y="86" fill="#f23645" stroke="#f23645" textLength="14.8" lengthAdjust="spacingAndGlyphs">94,186</text>
<text x="581.8" y="86" textLength="2.7" lengthAdjust="spacingAndGlyphs">H</text><text x="585" y="86" fill="#f23645" stroke="#f23645" textLength="14.5" lengthAdjust="spacingAndGlyphs">95,938</text>
<text x="602.6" y="86" textLength="2.2" lengthAdjust="spacingAndGlyphs">L</text><text x="605.3" y="86" fill="#f23645" stroke="#f23645" textLength="14.1" lengthAdjust="spacingAndGlyphs">89,189</text>
<text x="622.6" y="86" textLength="2.8" lengthAdjust="spacingAndGlyphs">C</text><text x="625.8" y="86" fill="#f23645" stroke="#f23645" textLength="14.6" lengthAdjust="spacingAndGlyphs">90,909</text>
<text x="643.8" y="86" fill="#f23645" stroke="#f23645" textLength="34" lengthAdjust="spacingAndGlyphs">−3,278 (−3.48%)</text>
<text x="505.2" y="92.7" textLength="8.5" lengthAdjust="spacingAndGlyphs">SMA</text><text x="517.4" y="92.7" fill="#f23645" stroke="#f23645" textLength="16.7" lengthAdjust="spacingAndGlyphs">112,100</text>
<text x="505" y="438.2" textLength="7" lengthAdjust="spacingAndGlyphs">RSI</text><text x="515" y="438.2" fill="#9479d2" stroke="#9479d2" textLength="11.7" lengthAdjust="spacingAndGlyphs">37.86</text><text x="530" y="438.2" fill="#fdd835" stroke="#fdd835" textLength="12" lengthAdjust="spacingAndGlyphs">52.97</text>
</g>
</svg>
</body></html>
